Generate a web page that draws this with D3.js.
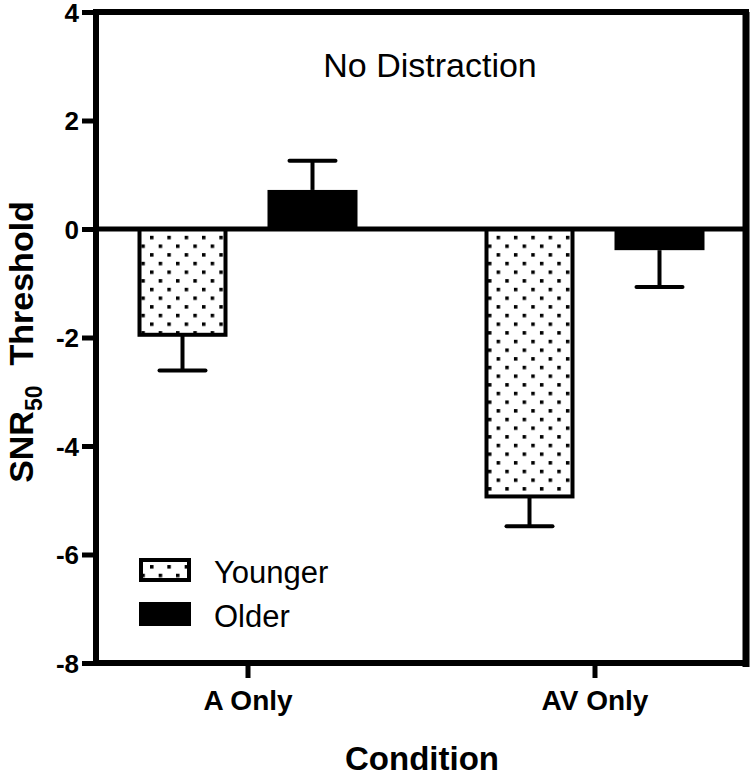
<!DOCTYPE html>
<html>
<head>
<meta charset="utf-8">
<script src="https://cdn.jsdelivr.net/npm/d3@7"></script>
<style>
  html, body { margin: 0; padding: 0; background: #fff; }
  svg { display: block; font-family: "Liberation Sans", Arial, Helvetica, sans-serif; }
</style>
</head>
<body>
<svg id="chart" width="750" height="780"></svg>
<script>
// ---- data ----
const conditions = ["A Only", "AV Only"];
const groups = ["Younger", "Older"];
const youngerMeans = [-1.95, -4.93];
const youngerErrors = [0.66, 0.55];
const olderMeans = [0.72, -0.39];
const olderErrors = [0.54, 0.68];
const yTicks = [-8, -6, -4, -2, 0, 2, 4];
const chartTitle = "No Distraction";
const xTitle = "Condition";

const rows = [];
conditions.forEach((c, i) => {
  rows.push({ cond: c, group: "Younger", mean: youngerMeans[i], err: youngerErrors[i] });
  rows.push({ cond: c, group: "Older", mean: olderMeans[i], err: olderErrors[i] });
});

const svg = d3.select("#chart");
const mLeft = 96, mRight = 746, mTop = 12, mBottom = 663;

const y = d3.scaleLinear().domain([-8, 4]).range([mBottom, mTop]);
const x = d3.scalePoint().domain(conditions).range([mLeft, mRight]).padding(0.4366);
const xs = d3.scaleBand().domain(groups).range([-110, 110]).paddingInner(0.3077).paddingOuter(0);

// dotted pattern
const defs = svg.append("defs");
const pat = defs.append("pattern")
  .attr("id", "dots").attr("patternUnits", "userSpaceOnUse")
  .attr("x", 150).attr("y", 235.8).attr("width", 17.33).attr("height", 17.33);
pat.append("rect").attr("width", 17.33).attr("height", 17.33).attr("fill", "#fff");
pat.append("rect").attr("x", 0).attr("y", 0).attr("width", 3.5).attr("height", 3.5).attr("fill", "#000");
pat.append("rect").attr("x", 8.67).attr("y", 8.67).attr("width", 3.5).attr("height", 3.5).attr("fill", "#000");

// bars
const bars = svg.append("g");
bars.selectAll("rect.bar").data(rows).enter().append("rect")
  .attr("class", "bar")
  .attr("x", d => x(d.cond) + xs(d.group) + (d.group === "Younger" ? 2 : 0))
  .attr("width", d => xs.bandwidth() - (d.group === "Younger" ? 4 : 0))
  .attr("y", d => Math.min(y(d.mean), y(0)))
  .attr("height", d => Math.abs(y(d.mean) - y(0)))
  .attr("fill", d => d.group === "Younger" ? "url(#dots)" : "#000")
  .attr("stroke", "#000")
  .attr("stroke-width", d => d.group === "Younger" ? 4 : 0);

// error bars
const eb = svg.append("g").attr("stroke", "#000").attr("stroke-width", 4);
rows.forEach(d => {
  const cx = x(d.cond) + xs(d.group) + xs.bandwidth() / 2;
  const end = d.mean >= 0 ? d.mean + d.err : d.mean - d.err;
  eb.append("line").attr("x1", cx).attr("x2", cx).attr("y1", y(d.mean)).attr("y2", y(end));
  eb.append("line").attr("x1", cx - 23).attr("x2", cx + 23).attr("y1", y(end)).attr("y2", y(end))
    .attr("stroke-linecap", "round");
});

// zero line
svg.append("line").attr("x1", mLeft).attr("x2", mRight).attr("y1", y(0)).attr("y2", y(0))
  .attr("stroke", "#000").attr("stroke-width", 5);

// frame: top and right
svg.append("line").attr("x1", mLeft).attr("x2", mRight + 3).attr("y1", mTop).attr("y2", mTop)
  .attr("stroke", "#000").attr("stroke-width", 6);
svg.append("line").attr("x1", mRight).attr("x2", mRight).attr("y1", mTop).attr("y2", mBottom + 4)
  .attr("stroke", "#000").attr("stroke-width", 7);

// y axis
const yAxis = svg.append("g").attr("transform", `translate(${mLeft},0)`)
  .call(d3.axisLeft(y).tickValues(yTicks).tickSize(14).tickPadding(3).tickFormat(d => String(d)));
yAxis.select(".domain").attr("stroke", "#000").attr("stroke-width", 6)
  .attr("d", `M0,${mTop - 3}V${mBottom + 3}`);
yAxis.selectAll(".tick line").attr("stroke", "#000").attr("stroke-width", 5);
yAxis.selectAll(".tick text").attr("font-size", 26).attr("font-weight", "bold").attr("fill", "#000")
  .attr("font-family", "Liberation Sans, Arial, sans-serif").attr("dy", "0.36em");

// x axis
const xAxis = svg.append("g").attr("transform", `translate(0,${mBottom})`)
  .call(d3.axisBottom(x).tickSize(15).tickPadding(12));
xAxis.select(".domain").attr("stroke", "#000").attr("stroke-width", 6)
  .attr("d", `M${mLeft - 3},0H${mRight + 3}`);
xAxis.selectAll(".tick line").attr("stroke", "#000").attr("stroke-width", 5);
xAxis.selectAll(".tick text").attr("font-size", 28).attr("font-weight", "bold").attr("fill", "#000")
  .attr("font-family", "Liberation Sans, Arial, sans-serif");

// title
svg.append("text").attr("x", 430).attr("y", 77).attr("text-anchor", "middle")
  .attr("font-size", 34).attr("fill", "#000").text(chartTitle);

// x title
svg.append("text").attr("x", 422).attr("y", 770).attr("text-anchor", "middle")
  .attr("font-size", 33).attr("font-weight", "bold").attr("fill", "#000").text(xTitle);

// y title
const yt = svg.append("text").attr("transform", "translate(33,342) rotate(-90)")
  .attr("text-anchor", "middle").attr("font-size", 34).attr("font-weight", "bold").attr("fill", "#000");
yt.append("tspan").text("SNR");
yt.append("tspan").attr("font-size", 23).attr("dy", 9).text("50");
yt.append("tspan").attr("dy", -9).attr("dx", 20).text("Threshold");

// legend
const legendY = [571, 615];
const leg = svg.append("g");
groups.forEach((g, i) => {
  leg.append("rect").attr("x", 141).attr("y", legendY[i] - 11).attr("width", i === 0 ? 48 : 52)
    .attr("height", i === 0 ? 20 : 24)
    .attr("transform", i === 0 ? "translate(0,0)" : "translate(-2,-2)")
    .attr("fill", i === 0 ? "url(#dots)" : "#000")
    .attr("stroke", "#000").attr("stroke-width", i === 0 ? 4 : 0);
  leg.append("text").attr("x", 214).attr("y", legendY[i] + 12)
    .attr("font-size", 31).attr("fill", "#000").text(g);
});
</script>
</body>
</html>
